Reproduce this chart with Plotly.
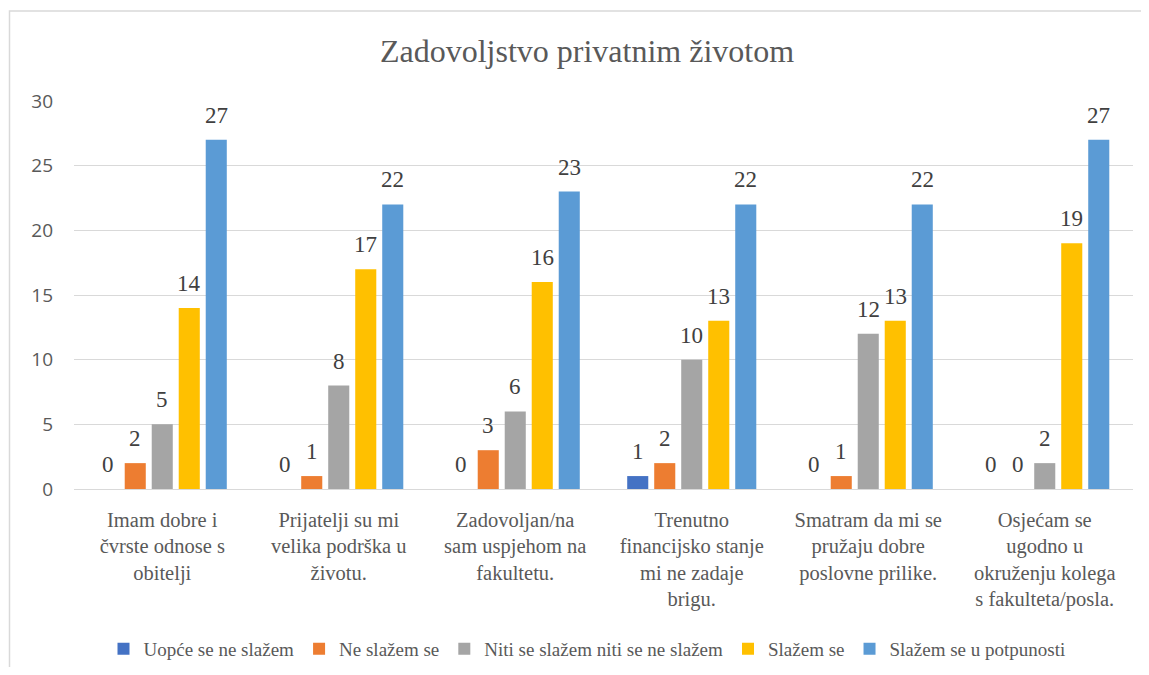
import plotly.graph_objects as go

categories = [
    "Imam dobre i<br>čvrste odnose s<br>obitelji",
    "Prijatelji su mi<br>velika podrška u<br>životu.",
    "Zadovoljan/na<br>sam uspjehom na<br>fakultetu.",
    "Trenutno<br>financijsko stanje<br>mi ne zadaje<br>brigu.",
    "Smatram da mi se<br>pružaju dobre<br>poslovne prilike.",
    "Osjećam se<br>ugodno u<br>okruženju kolega<br>s fakulteta/posla.",
]
series_names = [
    "Uopće se ne slažem",
    "Ne slažem se",
    "Niti se slažem niti se ne slažem",
    "Slažem se",
    "Slažem se u potpunosti",
]
uopce = [0, 0, 0, 1, 0, 0]
ne_slazem = [2, 1, 3, 2, 1, 0]
niti = [5, 8, 6, 10, 12, 2]
slazem = [14, 17, 16, 13, 13, 19]
potpuno = [27, 22, 23, 22, 22, 27]
series_values = [uopce, ne_slazem, niti, slazem, potpuno]
colors = ["#4472C4", "#ED7D31", "#A5A5A5", "#FFC000", "#5B9BD5"]
y_ticks = [0, 5, 10, 15, 20, 25, 30]

SERIF = "Liberation Serif"
SANS = "Open Sans"

# page has an 8px body margin, so coordinates are relative to (8, 8)
OFF = 8
W, H = 1149 - 2 * OFF, 675 - 2 * OFF
L = 74 - OFF
T = 101 - OFF
R = W - (1133 - OFF)
B = H - (489 - OFF)
pw, ph = W - L - R, H - T - B
BARGAP = 0.235
n_series = len(series_names)
slot_px = pw / len(categories) * (1 - BARGAP) / n_series

fig = go.Figure()
annotations = []
for i, (name, vals, col) in enumerate(zip(series_names, series_values, colors)):
    fig.add_trace(go.Bar(
        name=name, x=categories, y=vals,
        marker=dict(color=col, line=dict(width=0)),
    ))
    for cat, v in zip(categories, vals):
        annotations.append(dict(
            x=cat, y=v, xref="x", yref="y", text=str(v), showarrow=False,
            xanchor="center", yanchor="bottom",
            xshift=(i - (n_series - 1) / 2) * slot_px, yshift=10,
            font=dict(family=SERIF, size=23, color="#404040"),
        ))

fig.update_layout(
    width=W, height=H,
    margin=dict(l=L, r=R, t=T, b=B, autoexpand=False),
    paper_bgcolor="white", plot_bgcolor="white",
    barmode="group", bargap=BARGAP, bargroupgap=0.22,
    font=dict(family=SERIF, color="#595959"),
    title=dict(text="Zadovoljstvo privatnim životom",
               font=dict(family=SERIF, size=32, color="#595959"),
               x=(587 - OFF) / W, xref="container", xanchor="center",
               y=1 - (51 - OFF) / H, yref="container", yanchor="middle"),
    showlegend=True,
    legend=dict(orientation="h", x=(587 - OFF - L) / pw, xanchor="center",
                y=(489 - 649) / ph, yanchor="middle",
                font=dict(family=SERIF, size=19, color="#595959"),
                itemwidth=30, traceorder="normal"),
    annotations=annotations,
    shapes=[dict(type="rect", xref="paper", yref="paper",
                 x0=(9.5 - OFF - L) / pw, x1=1.2, y0=-0.7, y1=1 + (101 - 11) / ph,
                 line=dict(color="#D9D9D9", width=1.5), fillcolor="rgba(0,0,0,0)",
                 layer="below")],
)
fig.update_yaxes(range=[0, 30], tickvals=y_ticks, showgrid=True,
                 gridcolor="#D9D9D9", gridwidth=1, zeroline=True,
                 zerolinecolor="#D9D9D9", zerolinewidth=1, showline=False,
                 tickfont=dict(family=SANS, size=19, color="#595959"),
                 ticks="", ticklabelstandoff=20, automargin=False)
fig.update_xaxes(showline=False, ticks="", showgrid=False,
                 tickfont=dict(family=SERIF, size=20.5, color="#595959"),
                 tickangle=0, automargin=False, ticklabelstandoff=16)

fig.write_html("out.html")
